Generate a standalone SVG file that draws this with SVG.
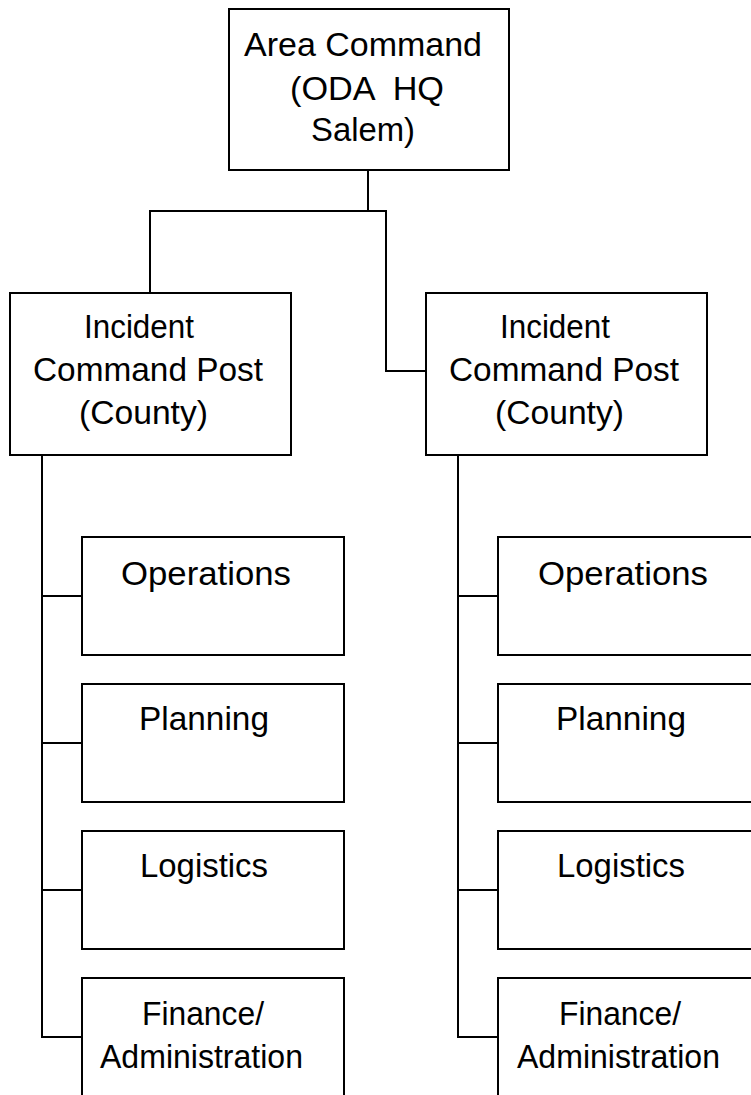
<svg xmlns="http://www.w3.org/2000/svg" width="751" height="1095" viewBox="0 0 751 1095">
<style>
.box{fill:#fff;stroke:#000;stroke-width:2}
.ln{fill:none;stroke:#000;stroke-width:2}
text{font-family:"Liberation Sans",Arial,Helvetica,sans-serif;font-size:33px;fill:#000}
</style>
<rect width="751" height="1095" fill="#fff"/>
<g id="connectors">
<polyline class="ln" points="368,170 368,211 150,211 150,293"/>
<polyline class="ln" points="368,211 386,211 386,371 426,371"/>
<polyline class="ln" points="42,455 42,1037 82,1037"/>
<line class="ln" x1="42" y1="596" x2="82" y2="596"/>
<line class="ln" x1="42" y1="743" x2="82" y2="743"/>
<line class="ln" x1="42" y1="890" x2="82" y2="890"/>
<polyline class="ln" points="458,455 458,1037 498,1037"/>
<line class="ln" x1="458" y1="596" x2="498" y2="596"/>
<line class="ln" x1="458" y1="743" x2="498" y2="743"/>
<line class="ln" x1="458" y1="890" x2="498" y2="890"/>
</g>
<g id="area-command">
<rect class="box" x="229" y="9" width="280" height="161"/>
<text x="244" y="56" textLength="238" lengthAdjust="spacingAndGlyphs">Area Command</text>
<text x="290" y="100" textLength="154" lengthAdjust="spacingAndGlyphs" style="white-space:pre">(ODA  HQ</text>
<text x="311" y="141" textLength="104" lengthAdjust="spacingAndGlyphs">Salem)</text>
</g>
<g id="icp-left">
<rect class="box" x="10" y="293" width="281" height="162"/>
<text x="84" y="338" textLength="110" lengthAdjust="spacingAndGlyphs">Incident</text>
<text x="33" y="381" textLength="230" lengthAdjust="spacingAndGlyphs">Command Post</text>
<text x="79" y="424" textLength="129" lengthAdjust="spacingAndGlyphs">(County)</text>
</g>
<g id="icp-right">
<rect class="box" x="426" y="293" width="281" height="162"/>
<text x="500" y="338" textLength="110" lengthAdjust="spacingAndGlyphs">Incident</text>
<text x="449" y="381" textLength="230" lengthAdjust="spacingAndGlyphs">Command Post</text>
<text x="495" y="424" textLength="129" lengthAdjust="spacingAndGlyphs">(County)</text>
</g>
<g id="ops-left"><rect class="box" x="82" y="537" width="262" height="118"/><text x="121" y="585" textLength="170" lengthAdjust="spacingAndGlyphs">Operations</text></g>
<g id="plan-left"><rect class="box" x="82" y="684" width="262" height="118"/><text x="139" y="730" textLength="130" lengthAdjust="spacingAndGlyphs">Planning</text></g>
<g id="log-left"><rect class="box" x="82" y="831" width="262" height="118"/><text x="140" y="877" textLength="128" lengthAdjust="spacingAndGlyphs">Logistics</text></g>
<g id="fin-left"><rect class="box" x="82" y="978" width="262" height="130"/><text x="142" y="1025" textLength="122" lengthAdjust="spacingAndGlyphs">Finance/</text><text x="100" y="1068" textLength="203" lengthAdjust="spacingAndGlyphs">Administration</text></g>
<g id="ops-right"><rect class="box" x="498" y="537" width="262" height="118"/><text x="538" y="585" textLength="170" lengthAdjust="spacingAndGlyphs">Operations</text></g>
<g id="plan-right"><rect class="box" x="498" y="684" width="262" height="118"/><text x="556" y="730" textLength="130" lengthAdjust="spacingAndGlyphs">Planning</text></g>
<g id="log-right"><rect class="box" x="498" y="831" width="262" height="118"/><text x="557" y="877" textLength="128" lengthAdjust="spacingAndGlyphs">Logistics</text></g>
<g id="fin-right"><rect class="box" x="498" y="978" width="262" height="130"/><text x="559" y="1025" textLength="122" lengthAdjust="spacingAndGlyphs">Finance/</text><text x="517" y="1068" textLength="203" lengthAdjust="spacingAndGlyphs">Administration</text></g>
</svg>
